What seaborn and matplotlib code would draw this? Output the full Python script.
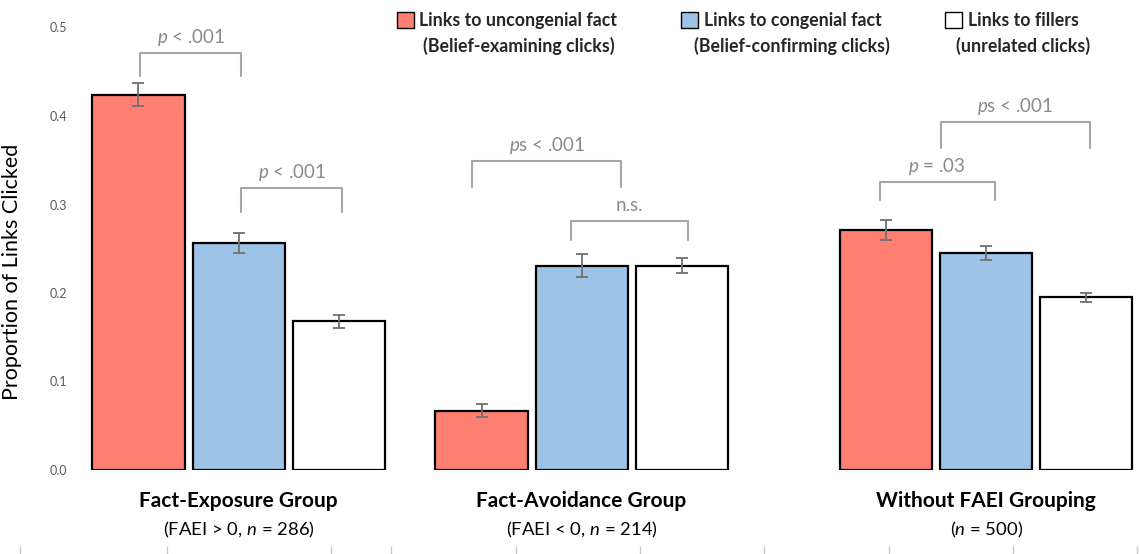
import numpy as np
import pandas as pd
import matplotlib
matplotlib.use("Agg")
import matplotlib.pyplot as plt
import seaborn as sns
from matplotlib.patches import Patch

# data
groups = ["Fact-Exposure Group", "Fact-Avoidance Group", "Without FAEI Grouping"]
group_sub = ["(FAEI > 0, $\\it{n}$ = 286)", "(FAEI < 0, $\\it{n}$ = 214)", "($\\it{n}$ = 500)"]
kinds = ["uncongenial", "congenial", "fillers"]
kind_labels = [("Links to uncongenial fact", "(Belief-examining clicks)"),
               ("Links to congenial fact", "(Belief-confirming clicks)"),
               ("Links to fillers", "(unrelated clicks)")]
uncongenial = [0.424, 0.067, 0.271]
congenial = [0.256, 0.231, 0.245]
fillers = [0.168, 0.231, 0.195]
err_uncongenial = [0.013, 0.0073, 0.0113]
err_congenial = [0.0113, 0.0126, 0.0079]
err_fillers = [0.007, 0.008, 0.0047]

# significance brackets: (left bar, right bar, text)
brackets = [(0, 1, "$\\it{p}$ < .001"),
            (1, 2, "$\\it{p}$ < .001"),
            (3, 4, "$\\it{p}$s < .001"),
            (4, 5, "n.s."),
            (6, 7, "$\\it{p}$ = .03"),
            (7, 8, "$\\it{p}$s < .001")]
bracket_tops = [0.471, 0.319, 0.3495, 0.2817, 0.3258, 0.3936]
bracket_legs = [0.445, 0.2915, 0.320, 0.260, 0.305, 0.3638]
# horizontal nudges of bracket ends, in bar widths
bracket_shift = [(0.02, 0.03), (0.03, 0.04), (-0.10, 0.43), (-0.11, 0.07), (-0.07, 0.09), (-0.49, 0.04)]

colors = ["#FF7F73", "#9DC3E6", "#FFFFFF"]
group_pos = [0, 1, 2.18]

sns.set_theme(style="white")
plt.rcParams['font.family'] = ['Lato', 'DejaVu Sans']
plt.rcParams['mathtext.fontset'] = 'custom'
plt.rcParams['mathtext.rm'] = 'Lato'
plt.rcParams['mathtext.it'] = 'Lato:italic'

vals = [uncongenial, congenial, fillers]
errs = [err_uncongenial, err_congenial, err_fillers]
rows = []
for g in range(3):
    for k in range(3):
        rows.append({"pos": group_pos[g], "kind": kinds[k], "value": vals[k][g], "err": errs[k][g]})
df = pd.DataFrame(rows)

fig = plt.figure(figsize=(11.4, 5.54), dpi=100)
ax = fig.add_axes([78 / 1140, 84 / 554, 1 - 78 / 1140, 442.5 / 554])

sns.barplot(data=df, x="pos", y="value", hue="kind", hue_order=kinds, palette=colors,
            native_scale=True, width=0.875, gap=0.08, errorbar=None, legend=False,
            edgecolor="black", linewidth=1.6, saturation=1, ax=ax)

bars = sorted([p for p in ax.patches], key=lambda p: p.get_x())
xc = np.array([p.get_x() + p.get_width() / 2 for p in bars])
bw = bars[0].get_width()
ax.errorbar(xc, df["value"], yerr=df["err"], fmt="none", ecolor="#707070",
            elinewidth=1.3, capsize=4, capthick=1.3, zorder=5)

for (i, j, txt), top, leg, (sl, sr) in zip(brackets, bracket_tops, bracket_legs, bracket_shift):
    x0 = xc[i] + sl * bw
    x1 = xc[j] + sr * bw
    ax.plot([x0, x0, x1, x1], [leg, top, top, leg], color="#a6a6a6", lw=1.5,
            solid_joinstyle="round", solid_capstyle="round", clip_on=False)
    ax.text((x0 + x1) / 2, top + 0.0175, txt, ha="center", va="center", fontsize=13.5,
            color="#8a8a8a")

ax.set_xlim(-0.468, 2.628)
ax.set_ylim(0, 0.5)
ax.set_yticks([0, 0.1, 0.2, 0.3, 0.4, 0.5])
ax.set_yticklabels(["0.0", "0.1", "0.2", "0.3", "0.4", "0.5"], fontsize=9, color="#595959")
ax.tick_params(axis="y", length=0, pad=8)
ax.set_xticks([])
ax.set_xlabel("")
ax.set_ylabel("Proportion of Links Clicked", fontsize=15.5, color="black")
ax.yaxis.set_label_coords(-0.053, 0.447)
sns.despine(ax=ax, left=True, bottom=True)

trans = ax.get_xaxis_transform()
for g in range(3):
    ax.text(group_pos[g], -0.07, groups[g], transform=trans, ha="center", va="center",
            fontsize=15, fontweight="bold", color="black")
    ax.text(group_pos[g], -0.135, group_sub[g], transform=trans, ha="center", va="center",
            fontsize=13.3, color="black")

handles = [Patch(facecolor=c, edgecolor="black", linewidth=1.0) for c in colors]
leg = fig.legend(handles, [a for a, b in kind_labels], loc="upper left",
                 bbox_to_anchor=(390 / 1140, 1 - 5 / 554), ncol=3, frameon=False,
                 prop={"weight": "bold", "size": 12.8}, handlelength=0.95, handleheight=1.0,
                 handletextpad=0.3, columnspacing=3.6, borderaxespad=0)
fig.canvas.draw()
inv = fig.transFigure.inverted()
for t, (a, b) in zip(leg.get_texts(), kind_labels):
    bb = t.get_window_extent()
    cx, cy = inv.transform(((bb.x0 + bb.x1) / 2, bb.y0))
    fig.text(cx, cy - 0.014, b, ha="center", va="top", fontsize=12.8, fontweight="bold")

# faint tick marks along the bottom edge of the original
bax = fig.add_axes([0, 0, 1, 0.03])
bax.set_xlim(0, 1140)
bax.set_ylim(0, 1)
bax.set_xticks([20, 167, 331, 391, 516, 640, 764, 889, 1013, 1137])
bax.set_xticklabels([])
bax.set_yticks([])
bax.tick_params(axis="x", bottom=True, direction="in", length=6, color="#c8c8c8", width=1)
for s in bax.spines.values():
    s.set_visible(False)
bax.patch.set_alpha(0)

fig.savefig("out.png", dpi=100)
